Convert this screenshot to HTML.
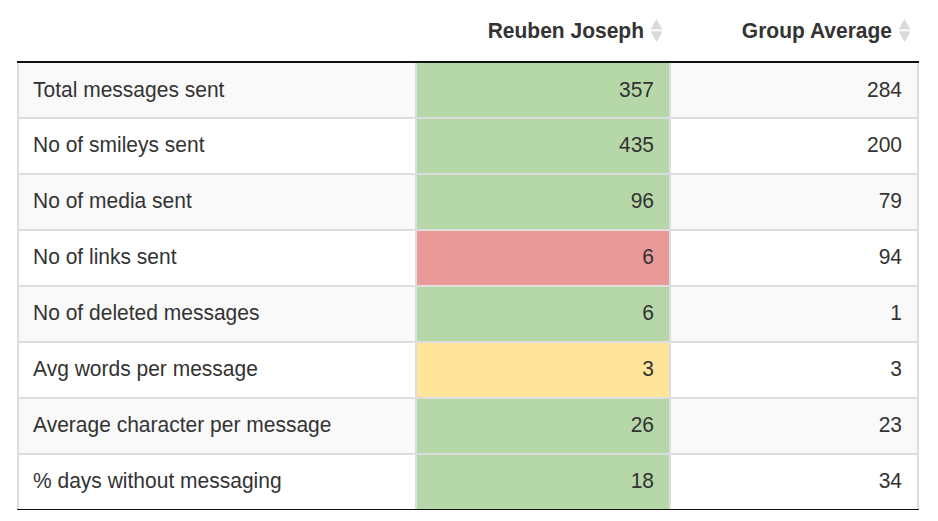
<!DOCTYPE html>
<html>
<head>
<meta charset="utf-8">
<style>
html,body{margin:0;padding:0;background:#fff;width:938px;height:521px;overflow:hidden;}
body{font-family:"Liberation Sans",sans-serif;color:#333;position:relative;}
.hd{position:absolute;top:0;height:61px;font-weight:bold;font-size:21px;line-height:24px;white-space:nowrap;}
.hd span{position:absolute;top:18px;right:0;transform:scaleY(1.07);transform-origin:0 5px;}
.sort{position:absolute;width:13px;height:24px;top:18px;}
.topline{position:absolute;left:17px;top:61px;width:902px;height:2px;background:#111;}
.botline{position:absolute;left:17px;top:509px;width:902px;height:1px;background:#111;}
.row{position:absolute;left:17px;width:902px;height:56px;}
.c{position:absolute;top:2px;height:54px;line-height:24px;padding-top:13px;font-size:21px;white-space:nowrap;box-sizing:border-box;}
.c span{display:inline-block;transform:scaleY(1.07);transform-origin:0 4px;}

.r0 .c{padding-top:14px;}
.c1{left:2px;width:396px;padding-left:14px;}
.c2{left:400px;width:252px;text-align:right;padding-right:15px;}
.c3{left:654px;width:246px;text-align:right;padding-right:15px;}
.vl{position:absolute;top:63px;height:446px;width:2px;background:#ddd;}
.hl{position:absolute;left:17px;width:902px;height:2px;background:#ddd;}
.odd .c1,.odd .c3{background:#f9f9f9;}
.g{background:#b6d7a8;}
.rd{background:#ea9999;}
.y{background:#ffe599;}
</style>
</head>
<body>
<div class="hd" style="left:420px;width:224px;"><span>Reuben Joseph</span></div>
<svg class="sort" style="left:650px;" viewBox="0 0 13 24"><polygon points="6.5,1 12.5,11.5 0.5,11.5" fill="#dadada"/><polygon points="0.5,13.2 12.5,13.2 6.5,24" fill="#dadada"/></svg>
<div class="hd" style="left:671px;width:221px;"><span>Group Average</span></div>
<svg class="sort" style="left:898px;" viewBox="0 0 13 24"><polygon points="6.5,1 12.5,11.5 0.5,11.5" fill="#dadada"/><polygon points="0.5,13.2 12.5,13.2 6.5,24" fill="#dadada"/></svg>

<div class="topline"></div>

<div class="row r0 odd" style="top:61px;"><div class="c c1"><span>Total messages sent</span></div><div class="c c2 g"><span>357</span></div><div class="c c3"><span>284</span></div></div>
<div class="row" style="top:117px;"><div class="c c1"><span>No of smileys sent</span></div><div class="c c2 g"><span>435</span></div><div class="c c3"><span>200</span></div></div>
<div class="row odd" style="top:173px;"><div class="c c1"><span>No of media sent</span></div><div class="c c2 g"><span>96</span></div><div class="c c3"><span>79</span></div></div>
<div class="row" style="top:229px;"><div class="c c1"><span>No of links sent</span></div><div class="c c2 rd"><span>6</span></div><div class="c c3"><span>94</span></div></div>
<div class="row odd" style="top:285px;"><div class="c c1"><span>No of deleted messages</span></div><div class="c c2 g"><span>6</span></div><div class="c c3"><span>1</span></div></div>
<div class="row" style="top:341px;"><div class="c c1"><span>Avg words per message</span></div><div class="c c2 y"><span>3</span></div><div class="c c3"><span>3</span></div></div>
<div class="row odd" style="top:397px;"><div class="c c1"><span>Average character per message</span></div><div class="c c2 g"><span>26</span></div><div class="c c3"><span>23</span></div></div>
<div class="row" style="top:453px;"><div class="c c1"><span>% days without messaging</span></div><div class="c c2 g"><span>18</span></div><div class="c c3"><span>34</span></div></div>

<div class="hl" style="top:117px;"></div>
<div class="hl" style="top:173px;"></div>
<div class="hl" style="top:229px;"></div>
<div class="hl" style="top:285px;"></div>
<div class="hl" style="top:341px;"></div>
<div class="hl" style="top:397px;"></div>
<div class="hl" style="top:453px;"></div>
<div class="vl" style="left:17px;"></div>
<div class="vl" style="left:415px;"></div>
<div class="vl" style="left:669px;"></div>
<div class="vl" style="left:917px;"></div>
<div class="botline"></div>
</body>
</html>
